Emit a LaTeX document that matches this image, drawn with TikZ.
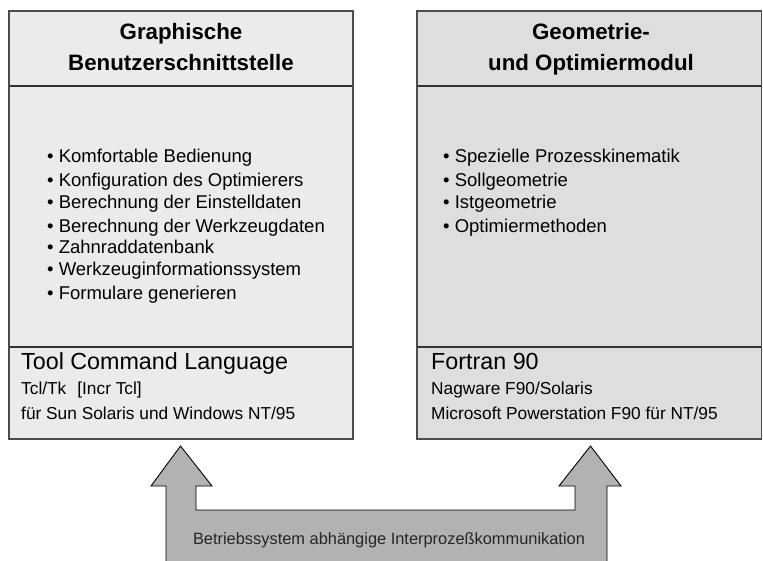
\documentclass[tikz,border=0pt]{standalone}
\usepackage{fontspec}
\setmainfont{Liberation Sans}
\begin{document}
\begin{tikzpicture}[x=1pt,y=-1pt,
  panel/.style={draw=black!70, line width=1.5pt},
  rule/.style={draw=black!80, line width=1.2pt},
  title/.style={anchor=base, inner sep=0pt, font=\fontsize{22.3}{26}\selectfont\bfseries},
  item/.style={anchor=base west, inner sep=0pt, font=\fontsize{18.5}{22}\selectfont},
  lang/.style={anchor=base west, inner sep=0pt, font=\fontsize{23.3}{27}\selectfont},
  detail/.style={anchor=base west, inner sep=0pt, font=\fontsize{17.3}{20}\selectfont},
  note/.style={anchor=base, inner sep=0pt, font=\fontsize{16.4}{20}\selectfont},
  comm/.style={fill=black!30, draw=black, line width=0.9pt, line join=miter}
]
\useasboundingbox (0,0) rectangle (763,561);

% left panel: graphical user interface
\fill[black!8] (9,11) rectangle (353,439);
\draw[rule] (9,86) -- (353,86);
\draw[rule] (9,347) -- (353,347);
\draw[panel] (9,11) rectangle (353,439);
\node[title] (lt1) at (181,40) {Graphische};
\node[title] (lt2) at (181,70.5) {Benutzerschnittstelle};
\node[item] (l1) at (47,162.5) {\textbullet\ Komfortable Bedienung};
\node[item] (l2) at (47,186.5) {\textbullet\ Konfiguration des Optimierers};
\node[item] (l3) at (47,208.5) {\textbullet\ Berechnung der Einstelldaten};
\node[item] (l4) at (47,232.5) {\textbullet\ Berechnung der Werkzeugdaten};
\node[item] (l5) at (47,254) {\textbullet\ Zahnraddatenbank};
\node[item] (l6) at (47,276) {\textbullet\ Werkzeuginformationssystem};
\node[item] (l7) at (47,299.5) {\textbullet\ Formulare generieren};
\node[lang] (lb1) at (21,369) {Tool Command Language};
\node[detail] (lb2) at (21,394.5) {Tcl/Tk\hspace{11pt}[Incr Tcl]};
\node[detail] (lb3) at (21,419.5) {für Sun Solaris und Windows NT/95};

% right panel: geometry and optimiser module
\fill[black!13] (417,11) rectangle (761.5,439);
\draw[rule] (417,86) -- (761.5,86);
\draw[rule] (417,347) -- (761.5,347);
\draw[panel] (417,11) rectangle (761.5,439);
\node[title] (rt1) at (591,40) {Geometrie-};
\node[title] (rt2) at (591,70.5) {und Optimiermodul};
\node[item] (r1) at (443,162.5) {\textbullet\ Spezielle Prozesskinematik};
\node[item] (r2) at (443,186.5) {\textbullet\ Sollgeometrie};
\node[item] (r3) at (443,208.5) {\textbullet\ Istgeometrie};
\node[item] (r4) at (443,232.5) {\textbullet\ Optimiermethoden};
\node[lang] (rb1) at (431,369) {Fortran 90};
\node[detail] (rb2) at (431,394.5) {Nagware F90/Solaris};
\node[detail] (rb3) at (431,419.5) {Microsoft Powerstation F90 für NT/95};

% double-headed communication arrow
\draw[comm] (180.5,446) -- (212,486) -- (196,486) -- (196,510) -- (575,510)
  -- (575,486) -- (559,486) -- (590.5,446) -- (621,486) -- (607,486)
  -- (607,570) -- (166,570) -- (166,486) -- (151,486) -- cycle;
\node[note, text=black!85] (ipc) at (389,544)
  {Betriebssystem abhängige Interprozeßkommunikation};
\end{tikzpicture}
\end{document}
